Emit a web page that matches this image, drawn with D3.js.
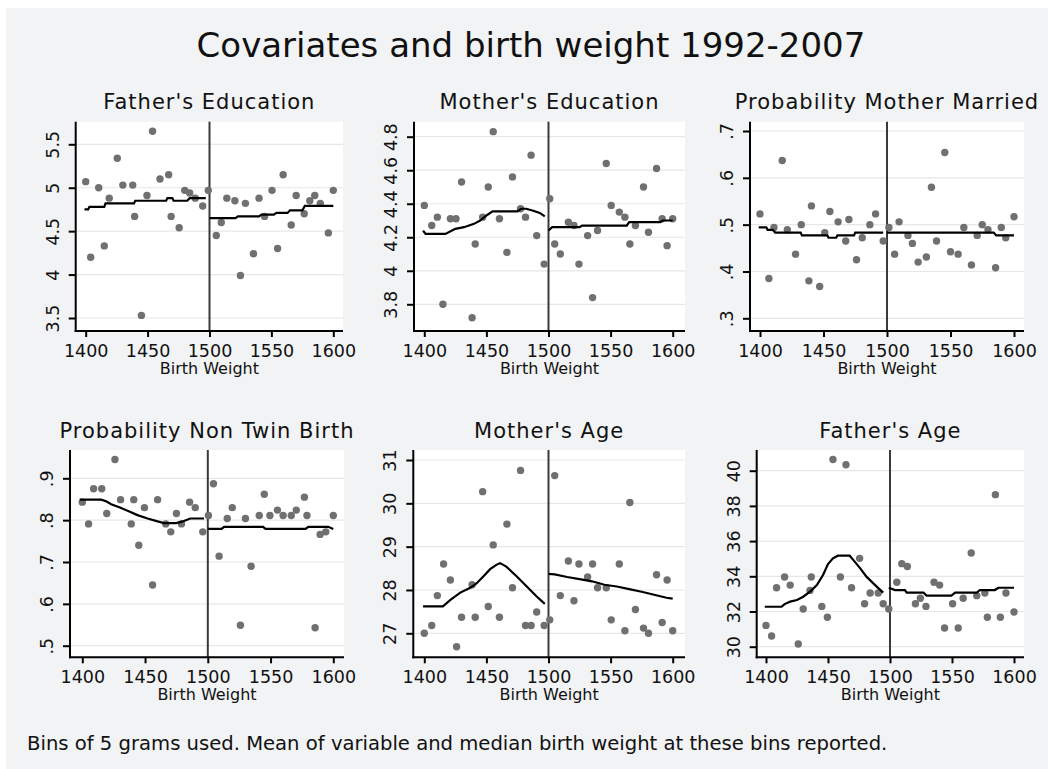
<!DOCTYPE html>
<html>
<head>
<meta charset="utf-8">
<script src="https://cdn.jsdelivr.net/npm/d3@7"></script>
<style>
  body { margin: 0; background: #fff; }
  text { font-family: "DejaVu Sans", sans-serif; fill: #111; }
</style>
</head>
<body>
<div id="chart"></div>
<script>
// ---- data ----
var xTicks = [1400, 1450, 1500, 1550, 1600]

var fEduX = [1400,1404,1410.5,1415,1419,1425.5,1430,1438,1439.5,1445,1449.5,1454,1460,1467,1469,1475.5,1480,1484,1488.5,1494.5,1499,1505.5,1509.5,1514,1520.5,1525,1529,1535.5,1540,1544.5,1550.5,1555,1559.5,1566,1570,1576.5,1581,1585,1589.5,1596,1600]
var fEduY = [5.07,4.20,5.00,4.33,4.88,5.34,5.03,5.03,4.67,3.53,4.91,5.65,5.10,5.15,4.67,4.54,4.97,4.94,4.88,4.79,4.97,4.45,4.60,4.88,4.85,3.99,4.82,4.24,4.88,4.67,4.97,4.30,5.15,4.57,4.91,4.70,4.85,4.91,4.82,4.48,4.97]
var fEduLeftX = [1399,1402,1403,1415,1416,1439,1440,1465,1466,1470,1471,1482,1484,1497]
var fEduLeftY = [4.75,4.75,4.78,4.78,4.82,4.82,4.85,4.85,4.88,4.88,4.85,4.85,4.88,4.88]
var fEduRightX = [1500,1521,1523,1540,1542,1552,1554,1563,1565,1575,1577,1600]
var fEduRightY = [4.65,4.65,4.67,4.67,4.69,4.69,4.71,4.71,4.74,4.74,4.79,4.79]
var fEduTicks = [3.5, 4, 4.5, 5, 5.5]

var mEduX = [1400,1406,1410.5,1415,1421,1425.5,1430,1438.5,1441,1447,1451.5,1455.5,1460.5,1466.5,1471,1477.5,1481.5,1486,1490.5,1496.5,1501,1505,1509.5,1516,1520.5,1524.5,1531.5,1535.5,1539.5,1546.5,1550.5,1557,1561.5,1565.5,1570,1576.5,1580.5,1587,1591.5,1595.5,1600]
var mEduY = [4.39,4.27,4.32,3.80,4.31,4.31,4.53,3.72,4.16,4.32,4.50,4.83,4.31,4.11,4.56,4.37,4.32,4.69,4.21,4.04,4.43,4.16,4.10,4.29,4.27,4.04,4.21,3.84,4.24,4.64,4.39,4.35,4.32,4.16,4.27,4.50,4.23,4.61,4.31,4.15,4.31]
var mEduLeftX = [1399,1401,1417,1425,1432,1440,1445,1450,1455,1475,1478,1482,1487,1493,1497]
var mEduLeftY = [4.24,4.22,4.22,4.25,4.26,4.28,4.30,4.33,4.355,4.355,4.37,4.37,4.36,4.345,4.325]
var mEduRightX = [1500,1503,1525,1527,1563,1565,1590,1592,1600]
var mEduRightY = [4.24,4.26,4.26,4.27,4.27,4.29,4.29,4.30,4.30]
var mEduTicks = [3.8, 4, 4.2, 4.4, 4.6, 4.8]

var marX = [1400,1407,1411,1417.5,1421.5,1428,1432.5,1438.5,1440.5,1447,1451,1455,1461.5,1467.5,1470,1476,1480.5,1486.5,1491,1497,1501.5,1506,1509.5,1516.5,1520,1524.5,1531,1535,1539,1545.5,1550,1556,1560.5,1566.5,1571,1575,1579.5,1585.5,1590,1593.5,1600]
var marY = [.523,.385,.494,.637,.489,.437,.500,.380,.540,.368,.483,.528,.506,.465,.511,.425,.472,.500,.523,.465,.494,.437,.506,.477,.460,.420,.431,.580,.465,.654,.442,.437,.494,.414,.477,.500,.489,.408,.494,.472,.517]
var marLeftX = [1399,1405,1406,1410,1412,1432,1433,1453,1454,1460,1461,1474,1475,1497]
var marLeftY = [.494,.494,.489,.489,.483,.483,.477,.477,.472,.472,.477,.477,.483,.483]
var marRightX = [1500,1584,1586,1600]
var marRightY = [.483,.483,.477,.477]
var marTicks = [.3, .4, .5, .6, .7]

var twinX = [1400,1405,1409,1415.5,1419.5,1426,1430.5,1439,1441,1445,1449.5,1456,1460,1466.5,1470.5,1475,1479,1485.5,1490,1496,1500.5,1504.5,1509,1515.5,1519.5,1526,1530,1534.5,1541,1545,1549.5,1555.5,1560,1566.5,1570.5,1577,1579,1585.5,1589.5,1594,1600]
var twinY = [.843,.791,.875,.875,.816,.945,.849,.791,.849,.740,.830,.645,.849,.791,.772,.816,.791,.843,.830,.772,.811,.887,.714,.804,.830,.549,.804,.690,.811,.862,.811,.824,.811,.811,.824,.855,.811,.543,.766,.772,.811]
var twinLeftX = [1398,1415,1419,1423,1430,1437,1444,1452,1460,1465,1475,1480,1486,1497]
var twinLeftY = [.849,.849,.845,.838,.830,.821,.812,.804,.797,.793,.793,.797,.804,.804]
var twinRightX = [1500,1511,1513,1544,1546,1578,1580,1596,1600]
var twinRightY = [.779,.779,.784,.784,.779,.779,.784,.784,.779]
var twinTicks = [.5, .6, .7, .8, .9]

var mAgeX = [1400,1406,1410.5,1415.5,1421,1426,1430,1438.5,1441,1447,1451.5,1455.5,1460.5,1466.5,1471,1477.5,1481.5,1486,1490.5,1496.5,1501,1505,1509.5,1516,1520.5,1524.5,1531.5,1535.5,1539.5,1546.5,1550.5,1557,1561.5,1565.5,1570,1576.5,1580.5,1587,1591.5,1595.5,1600]
var mAgeY = [27.0,27.18,27.87,28.6,28.23,26.69,27.37,28.12,27.37,30.27,27.62,29.04,27.37,29.52,28.05,30.76,27.18,27.18,27.49,27.18,27.31,30.64,27.87,28.67,27.75,28.6,28.3,28.6,28.05,28.05,27.31,28.6,27.06,30.02,27.55,27.12,27.0,28.35,27.25,28.23,27.06]
var mAgeLeftX = [1399,1415,1421,1429,1437,1442,1447.5,1453,1458,1461,1466,1474.5,1482.5,1490.5,1497]
var mAgeLeftY = [27.62,27.62,27.77,27.94,28.05,28.15,28.31,28.48,28.58,28.62,28.54,28.31,28.08,27.85,27.68]
var mAgeRightX = [1500,1505,1515,1525,1535,1545,1555,1565,1575,1585,1595,1600]
var mAgeRightY = [28.37,28.36,28.30,28.25,28.20,28.12,28.08,28.02,27.96,27.89,27.82,27.80]
var mAgeTicks = [27, 28, 29, 30, 31]

var fAgeX = [1400,1404.5,1408.5,1415,1419.5,1426,1430,1435.5,1436.5,1445,1449.5,1454,1460,1464.5,1469,1475.5,1479.5,1484,1490.5,1494.5,1499,1505.5,1509.5,1514,1520.5,1524.5,1529,1535.5,1540,1544,1550.5,1555,1559,1565.5,1570,1576.5,1578.5,1585,1589,1593.5,1600]
var fAgeY = [31.21,30.61,33.35,33.96,33.50,30.15,32.14,33.2,33.96,32.29,31.67,40.64,33.96,40.34,33.35,35.02,32.44,33.05,33.05,32.44,32.14,33.66,34.72,34.56,32.44,32.75,32.29,33.66,33.50,31.06,32.44,31.06,32.75,35.32,32.90,33.05,31.67,38.64,31.67,33.05,31.97]
var fAgeLeftX = [1399,1412.5,1415,1419.5,1425,1430,1435.5,1441,1446,1450,1454,1458,1467.5,1470.5,1476,1481,1488,1494.5]
var fAgeLeftY = [32.27,32.27,32.42,32.56,32.65,32.84,33.13,33.5,34.07,34.7,35.02,35.17,35.17,34.92,34.45,33.98,33.5,33.07]
var fAgeRightX = [1499,1504,1512,1513.5,1527,1529.5,1549.5,1552.5,1570,1572.5,1584.5,1587.5,1600]
var fAgeRightY = [33.35,33.22,33.22,33.07,33.07,32.9,32.9,33.07,33.07,33.22,33.22,33.35,33.35]
var fAgeTicks = [30, 32, 34, 36, 38, 40]

var titles = ["Father's Education", "Mother's Education", "Probability Mother Married",
  "Probability Non Twin Birth", "Mother's Age", "Father's Age"]

var cutoff = 1500

// ---- layout (pixel boxes per panel) ----
// box: plot region; px: pixel of x=1400 and x=1600; py: pixel of first and last y tick
var panels = [
  { x: fEduX, y: fEduY, lx: fEduLeftX, ly: fEduLeftY, rx: fEduRightX, ry: fEduRightY, ticks: fEduTicks,
    box: [75.7, 343, 121.7, 331], px: [85.7, 333.3], py: [318, 144.3] },
  { x: mEduX, y: mEduY, lx: mEduLeftX, ly: mEduLeftY, rx: mEduRightX, ry: mEduRightY, ticks: mEduTicks,
    box: [414, 685, 121.7, 331], px: [424.3, 672.7], py: [304.3, 136.7] },
  { x: marX, y: marY, lx: marLeftX, ly: marLeftY, rx: marRightX, ry: marRightY, ticks: marTicks,
    box: [750, 1024, 121.7, 331], px: [760, 1014], py: [318.3, 131] },
  { x: twinX, y: twinY, lx: twinLeftX, ly: twinLeftY, rx: twinRightX, ry: twinRightY, ticks: twinTicks,
    box: [70, 344, 450, 657.3], px: [82.3, 333.3], py: [645.7, 478.3] },
  { x: mAgeX, y: mAgeY, lx: mAgeLeftX, ly: mAgeLeftY, rx: mAgeRightX, ry: mAgeRightY, ticks: mAgeTicks,
    box: [413.3, 685, 450, 657.3], px: [424.3, 672.7], py: [633.3, 460] },
  { x: fAgeX, y: fAgeY, lx: fAgeLeftX, ly: fAgeLeftY, rx: fAgeRightX, ry: fAgeRightY, ticks: fAgeTicks,
    box: [756.7, 1024, 450, 657.3], px: [766, 1014], py: [646.7, 470.7] }
]

var width = 1048, height = 769
var dotCol = "#707070"
var gridCol = "#e7e7e7"

var svg = d3.select("#chart")
  .append("svg")
  .attr("width", width)
  .attr("height", height)

svg.append("rect")
  .attr("x", 6).attr("y", 8)
  .attr("width", width - 6).attr("height", height - 8)
  .attr("fill", "#f2f3f5")

svg.append("text")
  .attr("x", 531).attr("y", 57)
  .attr("text-anchor", "middle")
  .attr("font-size", 34)
  .text("Covariates and birth weight 1992-2007")

function fmt(v) {
  return String(v).replace(/^0\./, ".")
}

panels.forEach(function (p, i) {
  var L = p.box[0], R = p.box[1], T = p.box[2], B = p.box[3]
  var x = d3.scaleLinear().domain([1400, 1600]).range(p.px)
  var y = d3.scaleLinear().domain([p.ticks[0], p.ticks[p.ticks.length - 1]]).range(p.py)

  var g = svg.append("g")

  g.append("rect")
    .attr("x", L).attr("y", T)
    .attr("width", R - L).attr("height", B - T)
    .attr("fill", "#fff")

  // gridlines
  g.selectAll(".grid")
    .data(p.ticks)
    .enter()
    .append("line")
    .attr("x1", L).attr("x2", R)
    .attr("y1", function (d) { return y(d) })
    .attr("y2", function (d) { return y(d) })
    .attr("stroke", gridCol)
    .attr("stroke-width", 1.2)

  // cutoff line
  g.append("line")
    .attr("x1", x(cutoff)).attr("x2", x(cutoff))
    .attr("y1", T).attr("y2", B)
    .attr("stroke", "#3a3a3a")
    .attr("stroke-width", 2)

  g.selectAll("circle")
    .data(d3.range(p.x.length))
    .enter()
    .append("circle")
    .attr("cx", function (k) { return x(p.x[k]) })
    .attr("cy", function (k) { return y(p.y[k]) })
    .attr("r", 3.7)
    .attr("fill", dotCol)

  var line = d3.line()
    .x(function (d) { return x(d[0]) })
    .y(function (d) { return y(d[1]) })

  g.append("path")
    .attr("d", line(d3.zip(p.lx, p.ly)))
    .attr("fill", "none").attr("stroke", "#000").attr("stroke-width", 2.2)
  g.append("path")
    .attr("d", line(d3.zip(p.rx, p.ry)))
    .attr("fill", "none").attr("stroke", "#000").attr("stroke-width", 2.2)

  // x axis
  var xa = g.append("g")
    .attr("transform", "translate(0," + B + ")")
    .call(d3.axisBottom(x).tickValues(xTicks).tickSize(6).tickPadding(9).tickFormat(d3.format("d")))
  xa.select(".domain").remove()
  xa.selectAll("line").attr("stroke", "#000").attr("stroke-width", 2)
  xa.selectAll("text")
    .attr("dy", 0)
    .attr("y", 26)
    .attr("font-size", 17.5)
    .attr("font-family", "DejaVu Sans")
    .attr("fill", "#111")

  // y axis
  var ya = g.append("g")
    .attr("transform", "translate(" + L + ",0)")
    .call(d3.axisLeft(y).tickValues(p.ticks).tickSize(7).tickFormat(fmt))
  ya.select(".domain").remove()
  ya.selectAll("line").attr("stroke", "#000").attr("stroke-width", 2)
  ya.selectAll("text")
    .attr("transform", "rotate(-90)")
    .attr("x", 0).attr("y", -17).attr("dy", 0)
    .attr("text-anchor", "middle")
    .attr("font-size", 17.5)
    .attr("font-family", "DejaVu Sans")
    .attr("fill", "#111")

  g.append("line")
    .attr("x1", L).attr("x2", L).attr("y1", T).attr("y2", B + 1)
    .attr("stroke", "#000").attr("stroke-width", 2)
  g.append("line")
    .attr("x1", L - 1).attr("x2", R).attr("y1", B).attr("y2", B)
    .attr("stroke", "#000").attr("stroke-width", 2)

  g.append("text")
    .attr("x", (L + R) / 2).attr("y", T - 12.5)
    .attr("text-anchor", "middle")
    .attr("font-size", 21)
    .attr("letter-spacing", 1)
    .text(titles[i])

  g.append("text")
    .attr("x", (L + R) / 2).attr("y", B + 43)
    .attr("text-anchor", "middle")
    .attr("font-size", 16)
    .text("Birth Weight")
})

svg.append("text")
  .attr("x", 27).attr("y", 750)
  .attr("font-size", 19.6)
  .text("Bins of 5 grams used. Mean of variable and median birth weight at these bins reported.")
</script>
</body>
</html>
